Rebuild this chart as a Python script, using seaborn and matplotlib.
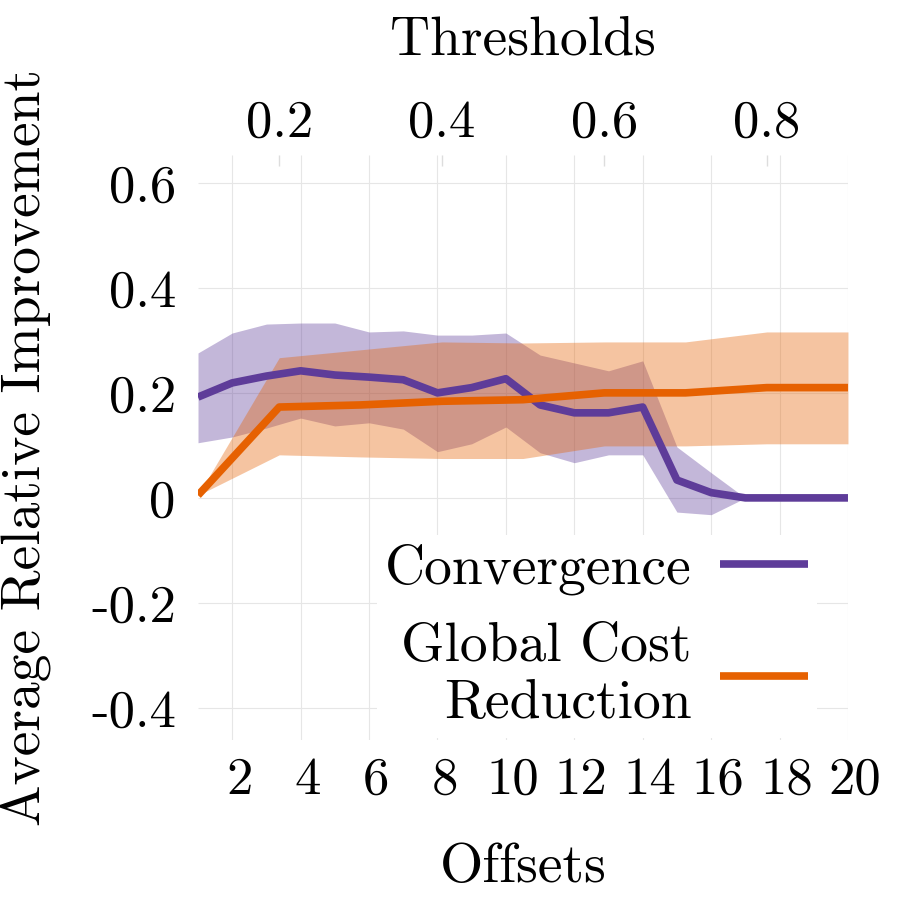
import numpy as np
import seaborn as sns
import matplotlib.pyplot as plt
import matplotlib.transforms as mtransforms
from matplotlib.lines import Line2D

# Convergence, plotted against offsets (bottom axis)
offsets = np.arange(1, 21)
conv_mean = [0.192, 0.219, 0.232, 0.242, 0.234, 0.230, 0.225, 0.200, 0.210, 0.227,
             0.177, 0.162, 0.162, 0.173, 0.034, 0.010, 0.0, 0.0, 0.0, 0.0]
conv_hi = [0.276, 0.314, 0.331, 0.333, 0.333, 0.316, 0.318, 0.310, 0.310, 0.314,
           0.272, 0.257, 0.242, 0.261, 0.097, 0.048, 0.0, 0.0, 0.0, 0.0]
conv_lo = [0.105, 0.116, 0.133, 0.152, 0.137, 0.143, 0.131, 0.088, 0.103, 0.135,
           0.086, 0.067, 0.082, 0.082, -0.027, -0.032, 0.0, 0.0, 0.0, 0.0]

# Global cost reduction, plotted against thresholds (top axis)
thresholds = [0.1, 0.2, 0.3, 0.4, 0.5, 0.6, 0.7, 0.8, 0.9]
gcr_mean = [0.005, 0.173, 0.177, 0.184, 0.187, 0.200, 0.200, 0.210, 0.210]
gcr_hi = [0.005, 0.267, 0.282, 0.297, 0.295, 0.297, 0.297, 0.316, 0.316]
gcr_lo = [0.005, 0.082, 0.078, 0.075, 0.075, 0.099, 0.099, 0.103, 0.103]

yticks = [-0.4, -0.2, 0, 0.2, 0.4, 0.6]
ytick_labels = ['-0.4', '-0.2', '0', '0.2', '0.4', '0.6']
xticks = [2, 4, 6, 8, 10, 12, 14, 16, 18, 20]
top_ticks = [0.2, 0.4, 0.6, 0.8]
top_labels = ['0.2', '0.4', '0.6', '0.8']

PURPLE = '#5e3c99'
ORANGE = '#e66101'

sns.set_style('whitegrid', {'grid.color': '#e6e6e6', 'text.color': 'black',
                            'axes.labelcolor': 'black', 'xtick.color': 'black',
                            'ytick.color': 'black'})
plt.rcParams['font.family'] = ['cmr10', 'DejaVu Serif']
plt.rcParams['axes.formatter.use_mathtext'] = True
plt.rcParams['axes.unicode_minus'] = False
plt.rcParams['lines.solid_capstyle'] = 'butt'

fig, ax = plt.subplots(figsize=(9, 9), dpi=100)
fig.subplots_adjust(left=0.22, right=0.9422, bottom=0.1778, top=0.8278)
ax2 = ax.twiny()

ax.set_xlim(1, 20)
ax2.set_xlim(0.1, 0.9)
ax.set_ylim(-0.461, 0.653)

# bands first (both in ax so the lines sit on top of them)
ax.fill_between(offsets, conv_lo, conv_hi, color=PURPLE, alpha=0.37, linewidth=0)
ax.fill_between(thresholds, gcr_lo, gcr_hi, color=ORANGE, alpha=0.37, linewidth=0,
                transform=ax2.transData)
sns.lineplot(x=offsets, y=conv_mean, ax=ax, color=PURPLE, linewidth=5.5)
sns.lineplot(x=thresholds, y=gcr_mean, ax=ax2, color=ORANGE, linewidth=5.5)

ax.set_xlim(1, 20)
ax2.set_xlim(0.1, 0.9)
ax.set_ylim(-0.461, 0.653)

ax.set_xticks(xticks)
ax.set_xticklabels([str(t) for t in xticks])
ax.set_yticks(yticks)
ax.set_yticklabels(ytick_labels)
ax2.set_xticks(top_ticks)
ax2.set_xticklabels(top_labels)
ax2.grid(False)

ax.tick_params(axis='y', labelsize=38, pad=16, length=0)
ax.tick_params(axis='x', labelsize=38, pad=12, length=0)
ax2.tick_params(axis='x', labelsize=38, pad=6, length=8, width=1,
                direction='in', color='#dddddd')

# bottom labels sit a little right of their grid lines in the original
shift = mtransforms.ScaledTranslation(7 / 100, 0, fig.dpi_scale_trans)
for lbl in ax.get_xticklabels():
    lbl.set_transform(lbl.get_transform() + shift)

for a in (ax, ax2):
    for s in a.spines.values():
        s.set_visible(False)

ax.set_xlabel('Offsets', fontsize=40)
ax.set_ylabel('Average Relative Improvement', fontsize=40)
ax2.set_xlabel('Thresholds', fontsize=40)
ax.xaxis.set_label_coords(0.5, -0.177)
ax.yaxis.set_label_coords(-0.226, 0.5)
ax2.xaxis.set_label_coords(0.5, 1.172)

handles = [Line2D([], [], color=PURPLE, linewidth=5.5),
           Line2D([], [], color=ORANGE, linewidth=5.5)]
leg = ax.legend(handles, ['Convergence', 'Global Cost\nReduction'],
                loc='lower right', bbox_to_anchor=(0.952, 0.004), borderaxespad=0,
                markerfirst=False, fontsize=40, handlelength=1.6, handletextpad=0.5,
                borderpad=0.15, labelspacing=0.5, frameon=True, fancybox=False,
                facecolor='white', edgecolor='none', framealpha=1)
for t in leg.get_texts():
    t.set_multialignment('right')

fig.savefig('out.png', dpi=100)
